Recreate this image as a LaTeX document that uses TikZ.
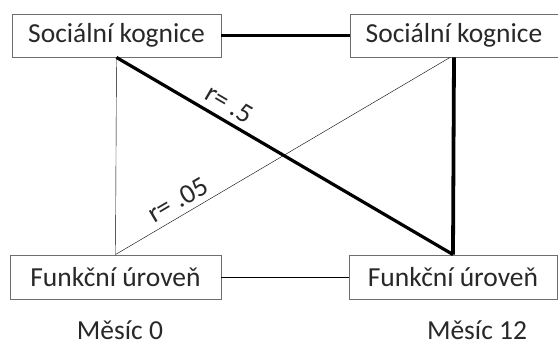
\documentclass[tikz,border=0pt]{standalone}
\usepackage{fontspec}
\setmainfont{Carlito}
\usepackage{tikz}
\usetikzlibrary{positioning}
\definecolor{frame}{RGB}{110,110,110}
\definecolor{thin}{RGB}{140,140,140}
\definecolor{ink}{RGB}{40,40,40}

\begin{document}
\begin{tikzpicture}[
  x=1pt, y=1pt,
  every node/.style={font=\fontsize{27.5}{32}\selectfont, text=ink},
  box/.style={draw=frame, line width=0.9pt, fill=white, inner sep=0pt},
  strong/.style={line width=3.8pt, black},
  weak/.style={line width=0.8pt, thin}
]
\useasboundingbox (0,0) rectangle (558,349);

% time point 0
\node[box, minimum width=209pt, minimum height=43pt] (sk0) at (116.5, 313.5) {Sociální kognice};
\node[box, minimum width=211pt, minimum height=44pt] (fu0) at (115.5, 72) {Funkční úroveň};

% time point 12
\node[box, minimum width=208pt, minimum height=43pt] (sk12) at (454, 313.5) {Sociální kognice};
\node[box, minimum width=208pt, minimum height=44pt] (fu12) at (453, 72) {Funkční úroveň};

% paths
\draw[strong] (sk0.east) -- (sk12.west);
\draw[weak] (fu0.east) -- (fu12.west);
\draw[weak] (sk0.south) -- (fu0.north);
\draw[strong] (sk12.south) -- (fu12.north);
\draw[strong, line width=3.2pt] (sk0.south) -- (fu12.north)
  node[pos=0.31, sloped, above=3pt] {r= .5};
\draw[weak] (sk12.south) ++(-4,0) -- (fu0.north)
  node[pos=0.79, sloped, above=3pt] {r= .05};

\node (m0) at (120, 19) {Měsíc 0};
\node (m12) at (477, 19) {Měsíc 12};

\end{tikzpicture}
\end{document}
